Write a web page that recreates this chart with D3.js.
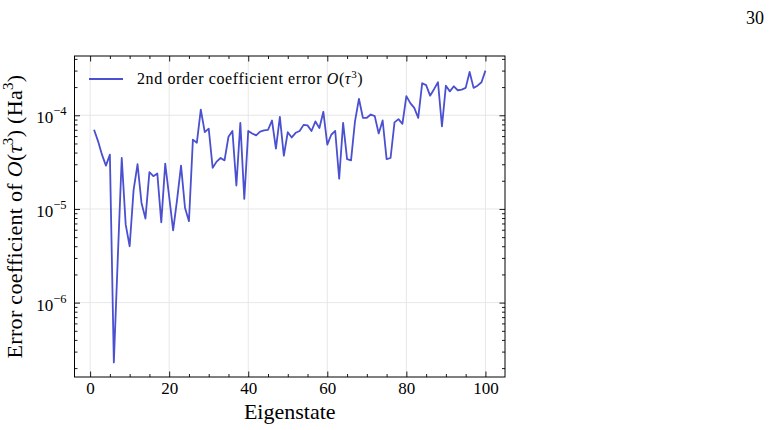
<!DOCTYPE html>
<html><head><meta charset="utf-8">
<script src="https://cdn.jsdelivr.net/npm/d3@7"></script>
<style>
body{margin:0;background:#fff;}
svg{display:block;}
text{font-family:"Liberation Serif","Times New Roman",serif;fill:#000;}
</style></head>
<body>
<svg id="chart" width="770" height="430"></svg>
<script>
// ---- data ----
const eigenstates = d3.range(1, 101);
const coefError = [
 7.0e-5, 5.3e-5, 3.8e-5, 2.9e-5, 3.8e-5, 2.3e-7, 3.0e-6, 3.5e-5, 6.8e-6, 4.0e-6,
 1.6e-5, 3.0e-5, 1.16e-5, 7.9e-6, 2.47e-5, 2.24e-5, 2.39e-5, 7.2e-6, 3.05e-5, 1.35e-5,
 5.9e-6, 1.26e-5, 2.9e-5, 1.03e-5, 7.4e-6, 5.5e-5, 5.1e-5, 1.15e-4, 6.6e-5, 7.2e-5,
 2.75e-5, 3.2e-5, 3.5e-5, 3.3e-5, 5.9e-5, 6.8e-5, 1.78e-5, 8.3e-5, 1.28e-5, 6.8e-5,
 6.4e-5, 6.1e-5, 6.7e-5, 6.9e-5, 7.0e-5, 8.8e-5, 4.4e-5, 9.6e-5, 3.7e-5, 6.6e-5,
 5.8e-5, 6.5e-5, 6.8e-5, 7.9e-5, 7.8e-5, 6.8e-5, 8.6e-5, 7.3e-5, 1.09e-4, 4.87e-5,
 6.2e-5, 6.8e-5, 2.1e-5, 8.3e-5, 3.4e-5, 3.3e-5, 8.6e-5, 1.5e-4, 9.4e-5, 9.4e-5,
 1.02e-4, 9.8e-5, 6.4e-5, 8.8e-5, 3.4e-5, 3.5e-5, 8.4e-5, 9.1e-5, 8.1e-5, 1.6e-4,
 1.35e-4, 1.2e-4, 9.4e-5, 2.2e-4, 2.1e-4, 1.62e-4, 1.9e-4, 2.25e-4, 7.6e-5, 2.07e-4,
 1.8e-4, 2.04e-4, 1.85e-4, 1.88e-4, 1.96e-4, 2.9e-4, 1.96e-4, 2.07e-4, 2.25e-4, 3.0e-4
];
const xTicks = [0, 20, 40, 60, 80, 100];
const yTickExponents = [-6, -5, -4];
const seriesLabel = "2nd order coefficient error";
const pageNumber = "30";

// ---- layout ----
const L = 74.5, R = 505, T = 56, B = 377;
const svg = d3.select("#chart");
const lineColor = "#4a50cf";

const xExt = d3.extent(eigenstates);
const xPad = (xExt[1] - xExt[0]) * 0.05;
const x = d3.scaleLinear().domain([xExt[0] - xPad, xExt[1] + xPad]).range([L, R]);
const lExt = d3.extent(coefError, v => Math.log10(v));
const lPad = (lExt[1] - lExt[0]) * 0.05;
const y = d3.scaleLog().domain([Math.pow(10, lExt[0] - lPad), Math.pow(10, lExt[1] + lPad)]).range([B, T]);

const yMajor = yTickExponents.map(e => Math.pow(10, e));
const yMinor = [];
for (let e = -8; e <= -3; e++) for (let k = 2; k <= 9; k++) {
  const v = k * Math.pow(10, e);
  if (v >= y.domain()[0] && v <= y.domain()[1]) yMinor.push(v);
}
const xMinor = d3.range(-0, 105, 5).filter(v => xTicks.indexOf(v) < 0);

// grid
const grid = svg.append("g");
grid.selectAll(".gx").data(xTicks).join("line")
  .attr("x1", d => x(d)).attr("x2", d => x(d)).attr("y1", T).attr("y2", B)
  .attr("stroke", "#e4e4e4").attr("stroke-width", 0.9);
grid.selectAll(".gy").data(yMajor).join("line")
  .attr("x1", L).attr("x2", R).attr("y1", d => y(d)).attr("y2", d => y(d))
  .attr("stroke", "#e4e4e4").attr("stroke-width", 0.9);

function styleAxis(g) {
  g.select(".domain").remove();
  g.selectAll(".tick line").attr("stroke", "#000").attr("stroke-width", 0.9);
  g.selectAll("text").attr("font-family", "Liberation Serif").attr("font-size", 17);
}
// bottom
svg.append("g").attr("transform", `translate(0,${B})`)
  .call(d3.axisBottom(x).tickValues(xTicks).tickSize(-5.5).tickPadding(5).tickFormat(d3.format("d")))
  .call(styleAxis);
svg.append("g").attr("transform", `translate(0,${B})`)
  .call(d3.axisBottom(x).tickValues(xMinor).tickSize(-3).tickFormat(""))
  .call(styleAxis);
// top
svg.append("g").attr("transform", `translate(0,${T})`)
  .call(d3.axisTop(x).tickValues(xTicks).tickSize(-5.5).tickFormat(""))
  .call(styleAxis);
svg.append("g").attr("transform", `translate(0,${T})`)
  .call(d3.axisTop(x).tickValues(xMinor).tickSize(-3).tickFormat(""))
  .call(styleAxis);
// left
svg.append("g").attr("transform", `translate(${L},0)`)
  .call(d3.axisLeft(y).tickValues(yMajor).tickSize(-5.5).tickFormat(""))
  .call(styleAxis);
svg.append("g").attr("transform", `translate(${L},0)`)
  .call(d3.axisLeft(y).tickValues(yMinor).tickSize(-3).tickFormat(""))
  .call(styleAxis);
// right
svg.append("g").attr("transform", `translate(${R},0)`)
  .call(d3.axisRight(y).tickValues(yMajor).tickSize(-5.5).tickFormat(""))
  .call(styleAxis);
svg.append("g").attr("transform", `translate(${R},0)`)
  .call(d3.axisRight(y).tickValues(yMinor).tickSize(-3).tickFormat(""))
  .call(styleAxis);

// y tick labels with superscripts
yTickExponents.forEach(e => {
  const t = svg.append("text").attr("x", L - 8).attr("y", y(Math.pow(10, e)) + 8)
    .attr("text-anchor", "end").attr("font-size", 17);
  t.append("tspan").text("10");
  t.append("tspan").attr("dy", -8).attr("font-size", 12.5).text("\u2212" + Math.abs(e));
});

// frame
svg.append("rect").attr("x", L).attr("y", T).attr("width", R - L).attr("height", B - T)
  .attr("fill", "none").attr("stroke", "#000").attr("stroke-width", 1);

// line
const line = d3.line().x((d, i) => x(eigenstates[i])).y(d => y(d));
svg.append("path").datum(coefError).attr("d", line)
  .attr("fill", "none").attr("stroke", lineColor).attr("stroke-width", 1.8)
  .attr("stroke-linejoin", "round");

// legend
svg.append("line").attr("x1", 89).attr("x2", 123).attr("y1", 79).attr("y2", 79)
  .attr("stroke", lineColor).attr("stroke-width", 1.8);
const lg = svg.append("text").attr("x", 137).attr("y", 84).attr("font-size", 16)
  .attr("letter-spacing", 0.6);
lg.append("tspan").text(seriesLabel + " ");
lg.append("tspan").attr("font-style", "italic").text("O");
lg.append("tspan").text("(");
lg.append("tspan").attr("font-style", "italic").text("\u03C4");
lg.append("tspan").attr("dy", -6).attr("font-size", 11).text("3");
lg.append("tspan").attr("dy", 6).text(")");

// x label
svg.append("text").attr("x", (L + R) / 2).attr("y", 419).attr("text-anchor", "middle")
  .attr("font-size", 22).text("Eigenstate");

// y label
const ylab = svg.append("text").attr("transform", `translate(22,${(T + B) / 2}) rotate(-90)`)
  .attr("text-anchor", "middle").attr("font-size", 22).attr("letter-spacing", 0.3);
ylab.append("tspan").text("Error coefficient of ");
ylab.append("tspan").attr("font-style", "italic").text("O");
ylab.append("tspan").text("(");
ylab.append("tspan").attr("font-style", "italic").text("\u03C4");
ylab.append("tspan").attr("dy", -9).attr("font-size", 15).text("3");
ylab.append("tspan").attr("dy", 9).text(") (Ha");
ylab.append("tspan").attr("dy", -9).attr("font-size", 15).text("3");
ylab.append("tspan").attr("dy", 9).text(")");

// page number
svg.append("text").attr("x", 764).attr("y", 24).attr("text-anchor", "end")
  .attr("font-size", 18).text(pageNumber);
</script>
</body></html>
